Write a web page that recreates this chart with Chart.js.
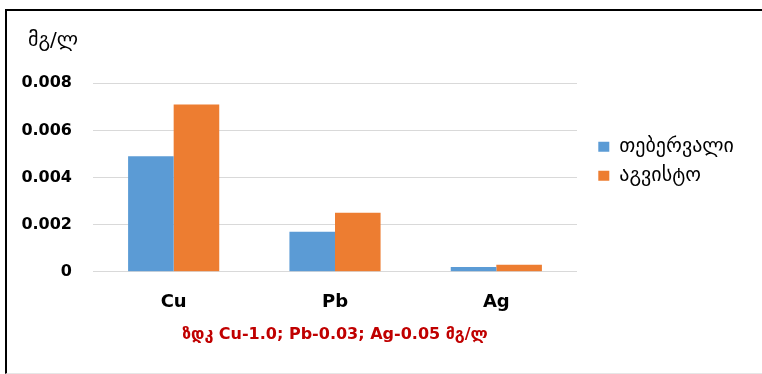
<!DOCTYPE html>
<html>
<head>
<meta charset="utf-8">
<script src="https://cdn.jsdelivr.net/npm/chart.js@4"></script>
<style>
  html, body { margin: 0; padding: 0; background: #fff; }
  #wrap { position: relative; width: 762px; height: 374px; overflow: hidden; }
  #frame { position: absolute; left: 5px; top: 9px; width: 757px; height: 365px;
           border-left: 2px solid #000; border-top: 2px solid #000; border-bottom: 1px solid #e6e6e6;
           box-sizing: border-box; pointer-events: none; }
  canvas { position: absolute; left: 0; top: 0; }
</style>
</head>
<body>
<div id="wrap">
  <canvas id="c" width="762" height="374"></canvas>
  <div id="frame"></div>
</div>
<script>
// ---- data ----
const categories = ['Cu', 'Pb', 'Ag'];
const seriesNames = ['თებერვალი', 'აგვისტო'];
const febValues = [0.0049, 0.0017, 0.0002];
const augValues = [0.0071, 0.0025, 0.0003];
const yTickValues = [0, 0.002, 0.004, 0.006, 0.008];
const unitLabel = 'მგ/ლ';
const normNote = 'ზდკ Cu-1.0; Pb-0.03; Ag-0.05 მგ/ლ';
const seriesColors = ['#5B9BD5', '#ED7D31'];

// ---- layout ----
const FONT = "'DejaVu Sans', sans-serif";
const W = 762, H = 374;
const AREA_LEFT = 93, AREA_RIGHT = 577, AREA_TOP = 83.3, AREA_BOTTOM = 271.7;
const LEG_FONT = 20, LEG_PAD = 9, LEG_BOX_W = 11, LEG_BOX_H = 10;
const LEG_BOX_X = 598.3, LEG_BOX_Y = 141.7;
const LEG_LEFT = LEG_BOX_X - LEG_PAD;

const mctx = document.createElement('canvas').getContext('2d');
mctx.font = LEG_FONT + 'px ' + FONT;
const maxTextW = Math.max(...seriesNames.map(s => mctx.measureText(s).width));
const legendW = LEG_PAD + LEG_BOX_W + LEG_FONT / 2 + maxTextW + 10;
const padRight = Math.max(0, W - LEG_LEFT - legendW);

Chart.defaults.font.family = FONT;
Chart.defaults.color = '#000';

const unitLabelPlugin = {
  id: 'unitLabel',
  afterDraw(chart) {
    const ctx = chart.ctx;
    const s = chart.scales.y;
    ctx.save();
    ctx.font = '20px ' + FONT;
    ctx.fillStyle = '#000';
    ctx.textAlign = 'left';
    ctx.textBaseline = 'middle';
    ctx.fillText(unitLabel, s.left + 28, chart.chartArea.top - 43);
    ctx.restore();
  }
};

new Chart(document.getElementById('c'), {
  type: 'bar',
  data: {
    labels: categories,
    datasets: [
      { label: seriesNames[0], data: febValues, backgroundColor: seriesColors[0], yAxisID: 'y' },
      { label: seriesNames[1], data: augValues, backgroundColor: seriesColors[1], yAxisID: 'y' }
    ]
  },
  plugins: [unitLabelPlugin],
  options: {
    responsive: false,
    animation: false,
    devicePixelRatio: 1,
    datasets: { bar: { categoryPercentage: 0.565, barPercentage: 1.0 } },
    layout: { padding: { top: AREA_TOP, left: 0, right: padRight, bottom: 0 } },
    plugins: {
      tooltip: { enabled: false },
      title: { display: false },
      legend: {
        display: true,
        position: 'right',
        align: 'start',
        fullSize: false,
        maxWidth: 1000,
        title: { display: true, text: ' ', font: { size: 10, lineHeight: 1 },
                 padding: { top: LEG_BOX_Y - (LEG_FONT - LEG_BOX_H) / 2 - AREA_TOP - LEG_PAD - 10, bottom: 0 } },
        labels: {
          boxWidth: LEG_BOX_W, boxHeight: LEG_BOX_H, padding: LEG_PAD,
          color: '#000', font: { size: LEG_FONT, weight: 'normal' }
        }
      }
    },
    scales: {
      x: {
        grid: { display: false, drawTicks: false },
        border: { display: false },
        ticks: { color: '#000', font: { size: 18, weight: 'bold' }, padding: 20 },
        title: {
          display: true, text: normNote, color: '#C00000',
          font: { size: 16, weight: 'bold', lineHeight: 1.2 },
          padding: { top: 0, bottom: 29.4 }
        },
        afterFit: s => { s.height = H - AREA_BOTTOM; }
      },
      y: {
        position: 'left',
        min: 0, max: 0.008,
        afterBuildTicks: s => { s.ticks = yTickValues.map(v => ({ value: v })); },
        grid: { color: '#d9d9d9', lineWidth: 1, drawTicks: false },
        border: { display: false },
        ticks: {
          color: '#000', padding: 21,
          font: { size: 16, weight: 'bold' },
          callback: v => (v === 0 ? '0' : v.toFixed(3))
        },
        afterFit: s => { s.width = AREA_LEFT; }
      },
      yR: {
        type: 'linear',
        position: 'right',
        display: true,
        grid: { display: false, drawTicks: false },
        border: { display: false },
        ticks: { display: false },
        afterFit: s => { s.width = LEG_LEFT - AREA_RIGHT; }
      }
    }
  }
});
</script>
</body>
</html>
